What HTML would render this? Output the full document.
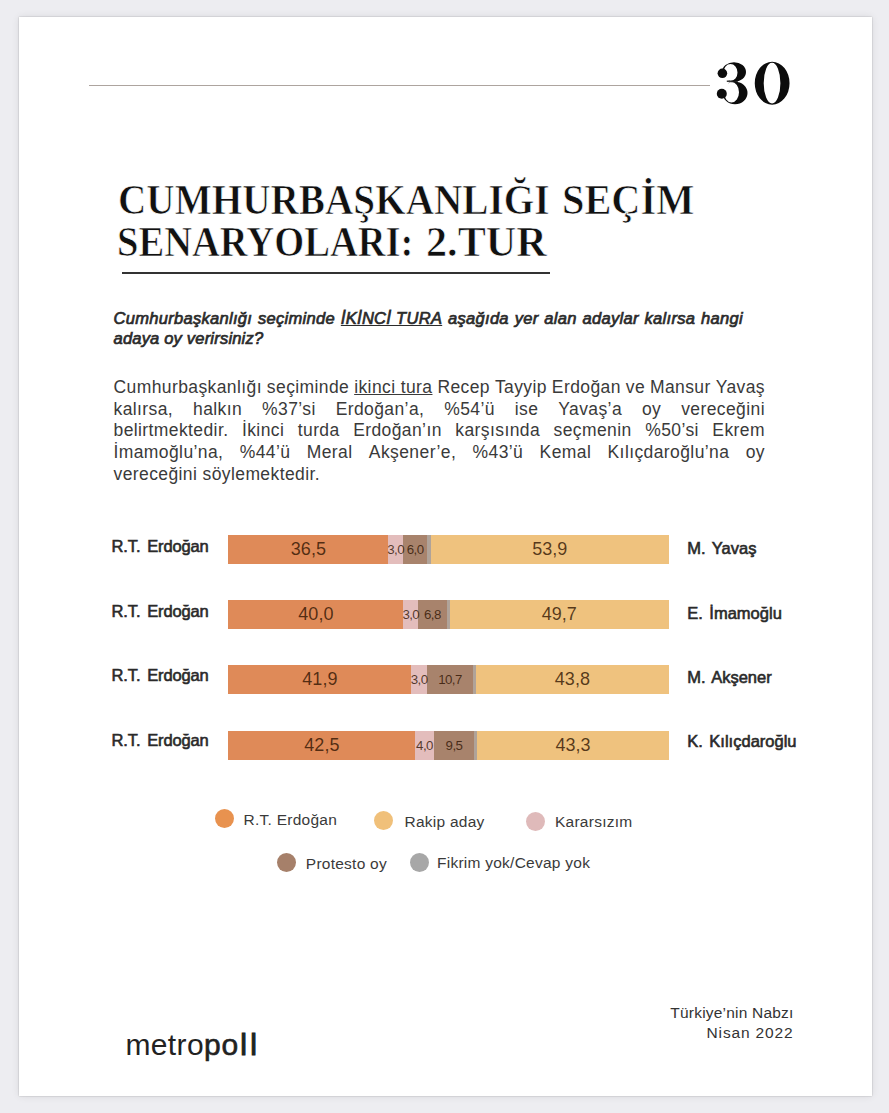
<!DOCTYPE html>
<html lang="tr">
<head>
<meta charset="utf-8">
<style>
html,body{margin:0;padding:0;}
body{width:889px;height:1113px;background:#ededf1;position:relative;overflow:hidden;font-family:"Liberation Sans",sans-serif;}
.page{position:absolute;left:19px;top:16.5px;width:853px;height:1079.5px;background:#fff;box-shadow:0 0 1.5px rgba(0,0,0,0.25),0 0 8px rgba(0,0,0,0.09);}
.hline{position:absolute;left:88.8px;top:84.5px;width:621px;height:1.5px;background:#ada49f;}
.pnum{position:absolute;top:50px;font-family:"Liberation Serif",serif;font-weight:bold;font-size:66px;line-height:1;color:#0e0e0e;transform-origin:0 0;white-space:nowrap;}
.title{position:absolute;left:118px;font-family:"Liberation Serif",serif;font-weight:bold;font-size:42px;line-height:1;color:#111;-webkit-text-stroke:0.7px #fff;white-space:nowrap;transform-origin:0 0;transform:scaleX(0.9445);}
.tul{position:absolute;left:121.5px;top:271.5px;width:428.3px;height:2px;background:#333;}
.q{position:absolute;left:113.5px;font-style:italic;font-size:16.5px;line-height:1;color:#2b2b2b;-webkit-text-stroke:0.7px #2b2b2b;white-space:nowrap;letter-spacing:0.3px;}
.p{position:absolute;left:113.5px;width:651.5px;font-size:17.5px;line-height:1;color:#3a3a3a;white-space:nowrap;letter-spacing:0.4px;}
.just{display:flex;justify-content:space-between;}
.seg{position:absolute;height:29px;}
.o{background:#df8a58;}
.k{background:#e3bdbc;}
.b{background:#a8836c;}
.g{background:#b0a399;}
.y{background:#efc27e;}
.bl,.sl{position:absolute;width:80px;height:29px;line-height:29px;text-align:center;color:rgba(45,18,0,0.78);white-space:nowrap;}
.bl{font-size:18px;}
.sl{font-size:13.3px;letter-spacing:-0.55px;}
.ll{position:absolute;left:111.6px;font-size:16.5px;color:#2a2a2a;-webkit-text-stroke:0.6px #2a2a2a;line-height:1;white-space:nowrap;letter-spacing:-0.15px;word-spacing:2.5px;}
.rl{position:absolute;left:687.2px;font-size:16.5px;color:#2a2a2a;-webkit-text-stroke:0.6px #2a2a2a;line-height:1;white-space:nowrap;letter-spacing:0px;word-spacing:2px;}
.dot{position:absolute;width:19px;height:19px;border-radius:50%;}
.lg{position:absolute;font-size:15.5px;color:#3a3a3a;line-height:1;white-space:nowrap;letter-spacing:0.25px;}
.foot{position:absolute;font-size:15.5px;color:#333;line-height:1;white-space:nowrap;}
.logo{position:absolute;left:125.5px;top:1030px;font-size:30px;color:#222;line-height:1;white-space:nowrap;letter-spacing:0.35px;}

</style>
</head>
<body>
<div class="page"></div>
<div class="hline"></div>
<svg style="position:absolute;left:0;top:0" width="889" height="120" viewBox="0 0 889 120">
<defs>
<clipPath id="cu"><polygon points="700,50 800,50 800,120 728.5,120 728.5,74.5 700,74.5"/></clipPath>
<clipPath id="cl"><polygon points="700,90.5 728.5,90.5 728.5,50 800,50 800,120 700,120"/></clipPath>
</defs>
<g fill="#0c0c0c">
<path clip-path="url(#cu)" fill-rule="evenodd" d="M722,72a12,9.75 0 1,0 24,0a12,9.75 0 1,0 -24,0z M723.5,72.6a7,8.5 0 1,0 14,0a7,8.5 0 1,0 -14,0z"/>
<path clip-path="url(#cl)" fill-rule="evenodd" d="M722.5,93a12.5,11.3 0 1,0 25,0a12.5,11.3 0 1,0 -25,0z M724,92.3a7.5,10.2 0 1,0 15,0a7.5,10.2 0 1,0 -15,0z"/>
<rect x="726.8" y="80.6" width="11" height="1.2"/>
<circle cx="722.4" cy="73.3" r="4.8"/>
<circle cx="721.8" cy="93.7" r="5"/>
<path fill-rule="evenodd" d="M754.75,83.2a17.4,21.4 0 1,0 34.8,0a17.4,21.4 0 1,0 -34.8,0z M763.7,83.15a8.35,20.35 0 1,0 16.7,0a8.35,20.35 0 1,0 -16.7,0z"/>
</g>
</svg>

<div class="title" style="top:179px;left:118px;transform:scaleX(0.934)">CUMHURBAŞKANLIĞI</div>
<div class="title" style="top:179px;left:562.2px;transform:scaleX(0.96)">SEÇİM</div>
<div class="title" style="top:221px;left:117px;transform:scaleX(0.918)">SENARYOLARI:</div>
<div class="title" style="top:221px;left:426px;transform:scaleX(1.005)">2.TUR</div>
<div class="tul"></div>

<div class="q just" style="top:310.2px;width:629.5px"><span>Cumhurbaşkanlığı</span><span>seçiminde</span><span><u>İKİNCİ TURA</u></span><span>aşağıda</span><span>yer</span><span>alan</span><span>adaylar</span><span>kalırsa</span><span>hangi</span></div>
<div class="q" style="top:330.3px;letter-spacing:0.2px">adaya oy verirsiniz?</div>

<div class="p just" style="top:379.2px"><span>Cumhurbaşkanlığı</span><span>seçiminde</span><span><u>ikinci tura</u></span><span>Recep</span><span>Tayyip</span><span>Erdoğan</span><span>ve</span><span>Mansur</span><span>Yavaş</span></div>
<div class="p just" style="top:400.8px"><span>kalırsa,</span><span>halkın</span><span>%37’si</span><span>Erdoğan’a,</span><span>%54’ü</span><span>ise</span><span>Yavaş’a</span><span>oy</span><span>vereceğini</span></div>
<div class="p just" style="top:422.4px"><span>belirtmektedir.</span><span>İkinci</span><span>turda</span><span>Erdoğan’ın</span><span>karşısında</span><span>seçmenin</span><span>%50’si</span><span>Ekrem</span></div>
<div class="p just" style="top:444.0px"><span>İmamoğlu’na,</span><span>%44’ü</span><span>Meral</span><span>Akşener’e,</span><span>%43’ü</span><span>Kemal</span><span>Kılıçdaroğlu’na</span><span>oy</span></div>
<div class="p" style="top:465.6px">vereceğini söylemektedir.</div>

<div class="seg y" style="left:228.4px;top:534.7px;width:440.2px"></div>
<div class="seg g" style="left:228.4px;top:534.7px;width:202.4px"></div>
<div class="seg b" style="left:228.4px;top:534.7px;width:199.0px"></div>
<div class="seg k" style="left:228.4px;top:534.7px;width:174.6px"></div>
<div class="seg o" style="left:228.4px;top:534.7px;width:159.9px"></div>
<div class="bl" style="left:268.4px;top:534.7px">36,5</div>
<div class="sl" style="left:355.6px;top:534.7px">3,0</div>
<div class="sl" style="left:375.2px;top:534.7px">6,0</div>
<div class="bl" style="left:509.7px;top:534.7px">53,9</div>
<div class="ll" style="top:538.3px">R.T. Erdoğan</div>
<div class="rl" style="top:539.7px">M. Yavaş</div>
<div class="seg y" style="left:228.4px;top:599.7px;width:440.2px"></div>
<div class="seg g" style="left:228.4px;top:599.7px;width:221.6px"></div>
<div class="seg b" style="left:228.4px;top:599.7px;width:218.3px"></div>
<div class="seg k" style="left:228.4px;top:599.7px;width:189.8px"></div>
<div class="seg o" style="left:228.4px;top:599.7px;width:175.0px"></div>
<div class="bl" style="left:275.9px;top:599.7px">40,0</div>
<div class="sl" style="left:370.8px;top:599.7px">3,0</div>
<div class="sl" style="left:392.4px;top:599.7px">6,8</div>
<div class="bl" style="left:519.3px;top:599.7px">49,7</div>
<div class="ll" style="top:603.2px">R.T. Erdoğan</div>
<div class="rl" style="top:604.9px">E. İmamoğlu</div>
<div class="seg y" style="left:228.4px;top:665.1px;width:440.2px"></div>
<div class="seg g" style="left:228.4px;top:665.1px;width:247.7px"></div>
<div class="seg b" style="left:228.4px;top:665.1px;width:244.6px"></div>
<div class="seg k" style="left:228.4px;top:665.1px;width:198.6px"></div>
<div class="seg o" style="left:228.4px;top:665.1px;width:183.1px"></div>
<div class="bl" style="left:279.9px;top:665.1px">41,9</div>
<div class="sl" style="left:379.2px;top:665.1px">3,0</div>
<div class="sl" style="left:410.0px;top:665.1px">10,7</div>
<div class="bl" style="left:532.4px;top:665.1px">43,8</div>
<div class="ll" style="top:667.3px">R.T. Erdoğan</div>
<div class="rl" style="top:669.1px">M. Akşener</div>
<div class="seg y" style="left:228.4px;top:730.7px;width:440.2px"></div>
<div class="seg g" style="left:228.4px;top:730.7px;width:249.1px"></div>
<div class="seg b" style="left:228.4px;top:730.7px;width:245.9px"></div>
<div class="seg k" style="left:228.4px;top:730.7px;width:205.2px"></div>
<div class="seg o" style="left:228.4px;top:730.7px;width:187.0px"></div>
<div class="bl" style="left:281.9px;top:730.7px">42,5</div>
<div class="sl" style="left:384.5px;top:730.7px">4,0</div>
<div class="sl" style="left:414.0px;top:730.7px">9,5</div>
<div class="bl" style="left:533.0px;top:730.7px">43,3</div>
<div class="ll" style="top:732.2px">R.T. Erdoğan</div>
<div class="rl" style="top:733.0px">K. Kılıçdaroğlu</div>
<div class="dot" style="left:215px;top:809.3px;background:#e8924f"></div>
<div class="lg" style="left:243.6px;top:811.9px">R.T. Erdoğan</div>
<div class="dot" style="left:373.5px;top:811.4px;background:#f0c07a"></div>
<div class="lg" style="left:404.5px;top:814px">Rakip aday</div>
<div class="dot" style="left:526px;top:811.5px;background:#dfbaba"></div>
<div class="lg" style="left:555px;top:814px">Kararsızım</div>
<div class="dot" style="left:277px;top:853.2px;background:#a6806a"></div>
<div class="lg" style="left:305.8px;top:855.8px">Protesto oy</div>
<div class="dot" style="left:410px;top:853px;background:#a7a7a7"></div>
<div class="lg" style="left:437px;top:855px">Fikrim yok/Cevap yok</div>

<div class="foot" style="right:95.5px;top:1005.2px;letter-spacing:0.2px">Türkiye’nin Nabzı</div>
<div class="foot" style="right:95.5px;top:1024.9px;letter-spacing:0.85px">Nisan 2022</div>
<div class="logo">metro<span style="-webkit-text-stroke:0.6px #222;letter-spacing:1px">po<span style="margin-left:1px;letter-spacing:3.2px;-webkit-text-stroke:1.1px #222">ll</span></span></div>

</body>
</html>
